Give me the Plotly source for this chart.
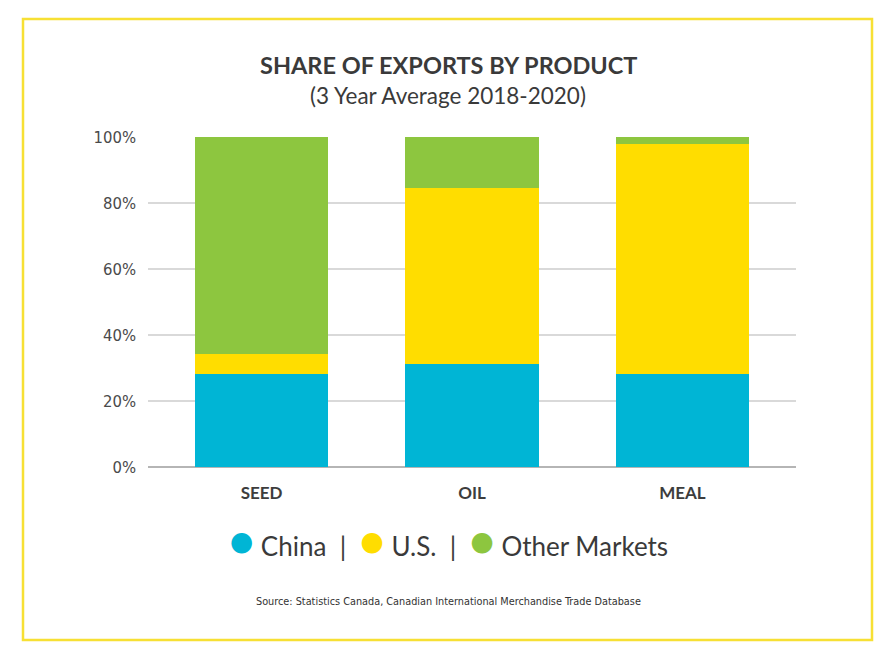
import plotly.graph_objects as go

# shares of exports (%), 3 year average 2018-2020
products = ["SEED", "OIL", "MEAL"]
china = [28.2, 31.1, 28.2]
us = [6.0, 53.4, 69.7]
other = [65.8, 15.5, 2.1]

series_names = ["China", "U.S.", "Other Markets"]
series_colors = ["#00b5d5", "#ffdd00", "#8dc63f"]
y_ticks = [0, 20, 40, 60, 80, 100]

W, H = 895, 669
OFF = 8  # page body margin the figure sits in
M_L, M_R, M_T, M_B = 148 - OFF, 99 + OFF, 137 - OFF, 202 + OFF
PW, PH = W - M_L - M_R, H - M_T - M_B

NARROW = "DejaVu Sans Condensed, Liberation Sans Narrow, sans-serif"


def px(x, y):
    """pixel position seen on the page -> paper coords"""
    x, y = x - OFF, y - OFF
    return (x - M_L) / PW, (H - M_B - y) / PH


fig = go.Figure()
for name, vals, col in zip(series_names, [china, us, other], series_colors):
    fig.add_trace(
        go.Bar(x=products, y=vals, name=name, marker_color=col, marker_line_width=0)
    )

fig.update_xaxes(
    range=[-0.54, 2.54],
    showgrid=False,
    showline=False,
    ticks="",
    ticklabelstandoff=14,
    tickfont=dict(family="Lato", size=17, color="#3d3d3d", weight="bold"),
)
fig.update_yaxes(
    range=[0, 100],
    tickvals=y_ticks,
    ticktext=[f"{v}%" for v in y_ticks],
    gridcolor="#d9d9d9",
    gridwidth=1.5,
    zeroline=True,
    zerolinecolor="#b5b5b5",
    zerolinewidth=1.5,
    ticks="",
    ticklabelstandoff=11,
    tickfont=dict(family=NARROW, size=16.5, color="#4a4a4a"),
)

# yellow frame
x0, y0 = px(23, 640)
x1, y1 = px(872, 19)
fig.add_shape(
    type="rect", xref="paper", yref="paper", x0=x0, y0=y0, x1=x1, y1=y1,
    line=dict(color="#f7e034", width=2.5), fillcolor="rgba(0,0,0,0)", layer="below",
)


def note(x, y, text, font):
    ax, ay = px(x, y)
    fig.add_annotation(
        x=ax, y=ay, xref="paper", yref="paper", showarrow=False,
        xanchor="center", yanchor="middle", text=text, font=font,
    )


# title + subtitle
note(448, 65, "<b>SHARE OF EXPORTS BY PRODUCT</b>",
     dict(family="Lato", size=23.5, color="#3a3a3a"))
note(448, 95, "(3 Year Average 2018-2020)",
     dict(family="Lato", size=22.5, color="#3a3a3a"))

# legend built as text with coloured dots and separators
dot = "<span style='color:{};font-size:42px'>●</span>"
parts = [dot.format(c) + " " + n for n, c in zip(series_names, series_colors)]
note(448, 540, "  |  ".join(parts), dict(family="Lato", size=26, color="#3a3a3a"))

# source
note(448, 601,
     "Source: Statistics Canada, Canadian International Merchandise Trade Database",
     dict(family=NARROW, size=10.8, color="#333333"))

fig.update_layout(
    barmode="stack",
    bargap=0.367,
    width=W,
    height=H,
    margin=dict(l=M_L, r=M_R, t=M_T, b=M_B),
    plot_bgcolor="white",
    paper_bgcolor="white",
    showlegend=False,
)
fig.write_html("out.html")
